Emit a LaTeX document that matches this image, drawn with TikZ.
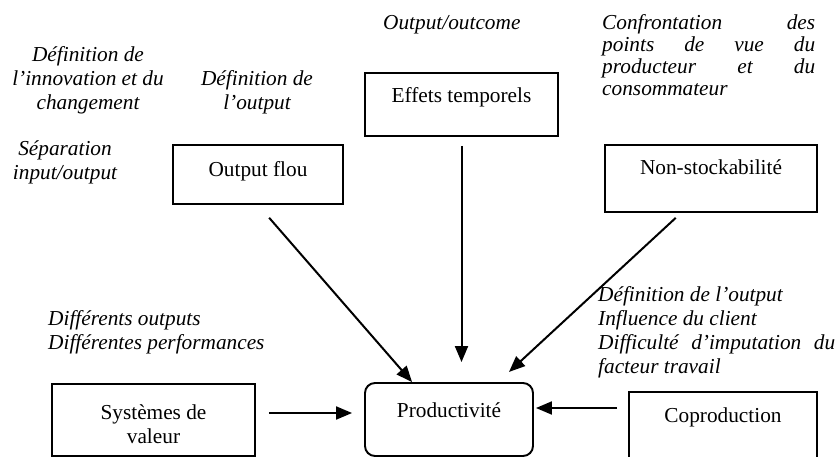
\documentclass[tikz,border=0pt]{standalone}
\usepackage{fontspec}
\setmainfont{Liberation Serif}
\usetikzlibrary{arrows.meta,calc}
\begin{document}
\begin{tikzpicture}[x=1pt,y=-1pt,
  every node/.style={inner sep=0pt, font=\fontsize{21.3}{24}\selectfont},
  box/.style={draw, line width=1.9pt, inner sep=0pt, align=center},
  note/.style={font=\fontsize{21.3}{24}\selectfont\itshape},
  arr/.style={line width=2pt, -{Triangle[length=16pt,width=13pt]}}
]
\useasboundingbox (0,0) rectangle (837,457);
\clip (0,0) rectangle (837,457);

% boxes
\node[box, minimum width=170pt, text height=32pt, text depth=27pt] (of) at (258,174.5) {Output flou};
\node[box, minimum width=193pt, text height=30pt, text depth=33pt] (et) at (461.5,104.5) {Effets temporels};
\node[box, minimum width=212pt, text height=30pt, text depth=37pt] (ns) at (711,178.5) {Non-stockabilité};
\node[box, minimum width=203pt, text height=59pt, text depth=13pt] (sv) at (153.5,420) {Systèmes de\\valeur};
\node[box, rounded corners=10pt, minimum width=168pt, text height=34pt, text depth=39pt] (prod) at (449,419.5) {Productivité};
\node[box, minimum width=188pt, text height=30pt, text depth=53pt] (cp) at (723,433.5) {Coproduction};

% arrows
\draw[arr, shorten <=17pt] (of.south) -- ($(prod.north west)+(48,0)$);
\draw[arr, shorten <=9pt, shorten >=20pt] (et.south) -- (et.south |- prod.north);
\draw[arr, shorten <=7.3pt, shorten >=14.9pt] ($(ns.south west)+(77,0)$) -- ($(prod.north west)+(134,0)$);
\draw[arr, shorten <=13pt, shorten >=12pt] ($(sv.east)+(0,-7)$) -- ($(prod.west)+(0,-6.5)$);
\draw[arr, shorten <=11pt, shorten >=2pt] ($(cp.west)+(0,-25.5)$) -- ($(prod.east)+(0,-11.5)$);

% notes (base anchor = baseline of the last line)
\node[note, anchor=base west] (oo) at (383,30) {Output/outcome};
\node[note, font=\fontsize{21.3}{22}\selectfont\itshape, anchor=base west, align=left] (conf) at (602,96)
  {\hbox to 213pt{Confrontation\hfill des}\\
   \hbox to 213pt{points\hfill de\hfill vue\hfill du}\\
   \hbox to 213pt{producteur\hfill et\hfill du}\\
   consommateur};
\node[note, anchor=base, align=center] (din) at (88,110) {Définition de\\l’innovation et du\\changement};
\node[note, anchor=base, align=center] (dout) at (257,110) {Définition de\\l’output};
\node[note, anchor=base, align=center] (sep) at (65,179) {Séparation\\input/output};
\node[note, anchor=base west, align=left] (diff) at (48,349) {Différents outputs\\Différentes performances};
\node[note, anchor=base west, align=left] (defc) at (598,373)
  {Définition de l’output\\
   Influence du client\\
   \hbox to 237pt{Difficulté\hfill d’imputation\hfill du}\\
   facteur travail};
\end{tikzpicture}
\end{document}
